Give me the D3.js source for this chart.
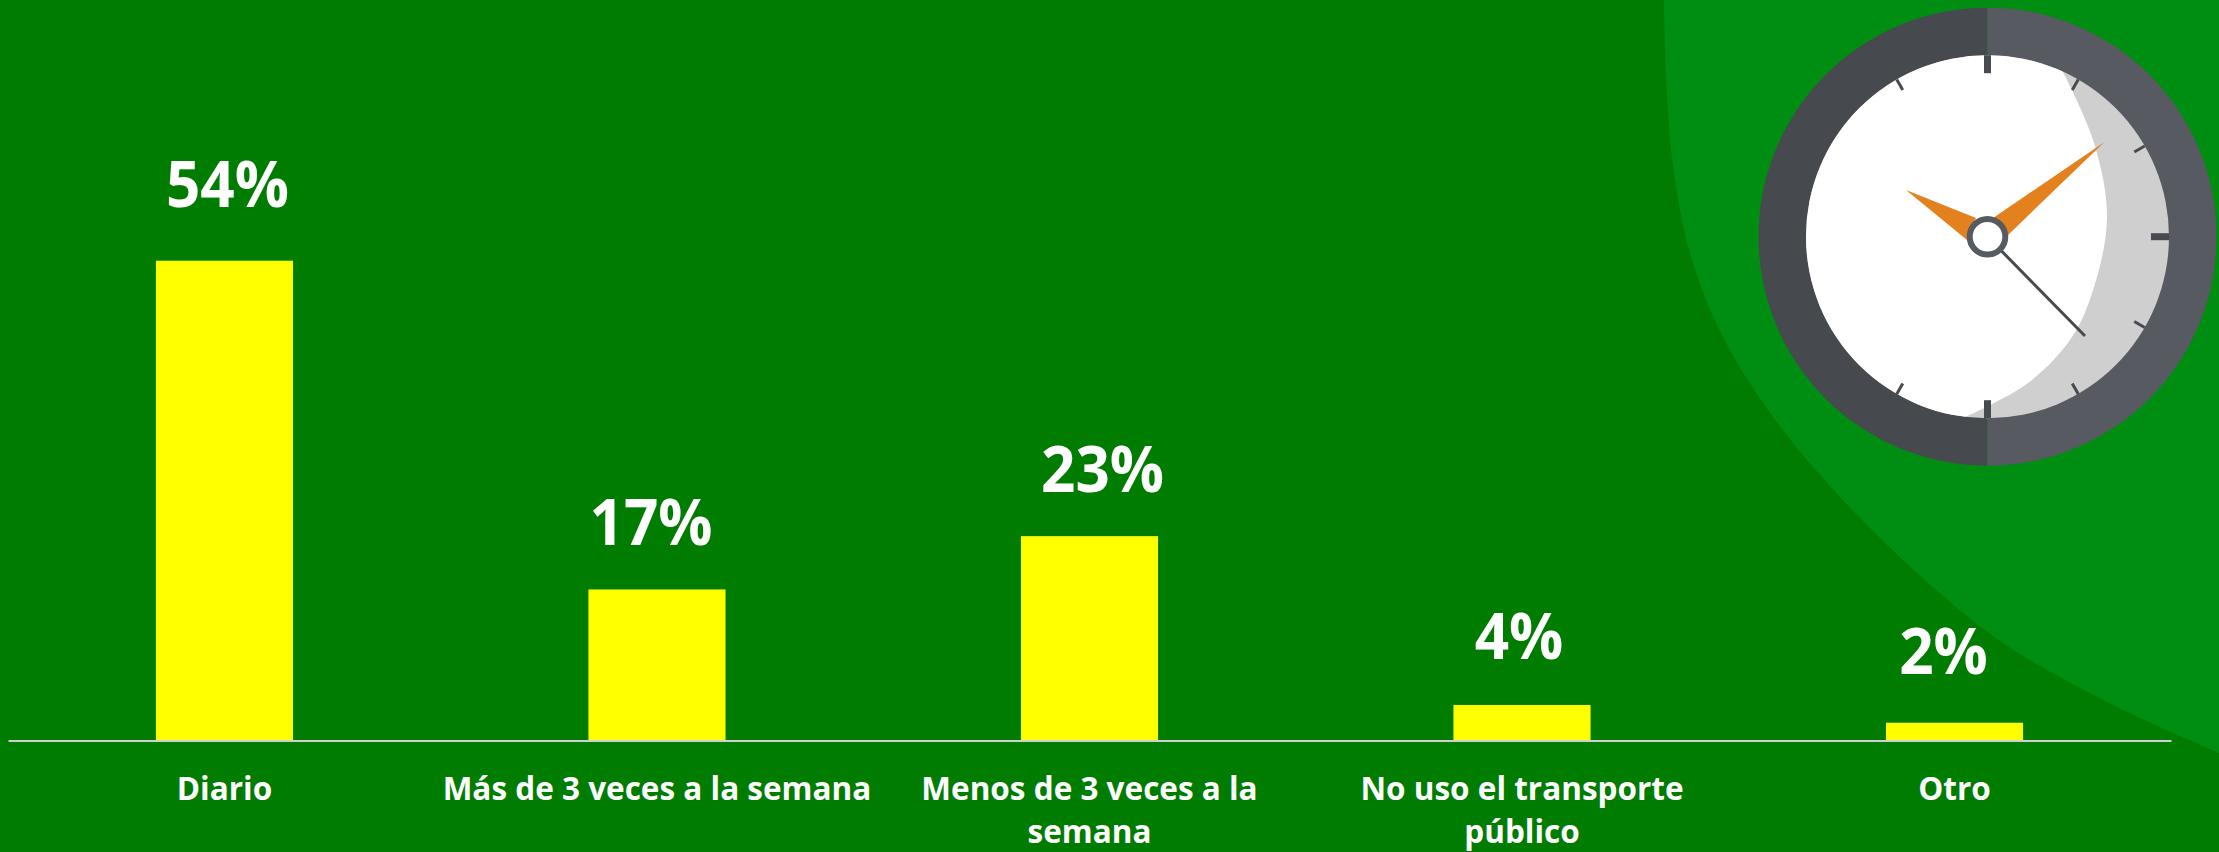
<!DOCTYPE html>
<html>
<head>
<meta charset="utf-8">
<script src="https://cdn.jsdelivr.net/npm/d3@7"></script>
<style>
  html, body { margin: 0; padding: 0; background: #007c00; }
  svg { display: block; }
</style>
</head>
<body>
<div id="chart"></div>
<script>
var categories = ["Diario", "Más de 3 veces a la semana", "Menos de 3 veces a la semana", "No uso el transporte público", "Otro"];
var values = [54, 17, 23, 4, 2];
var valueLabels = ["54%", "17%", "23%", "4%", "2%"];

var width = 2219, height = 852;
var baseY = 740.5;

// labels were placed by hand in the original, so they don't sit exactly over the bars
var labelNudgeX = [3, -6, 13, -3, -11];
var labelGapY = [54, 44, 44, 46, 49];

var svg = d3.select("#chart").append("svg")
  .attr("width", width)
  .attr("height", height);

svg.append("rect")
  .attr("width", width)
  .attr("height", height)
  .attr("fill", "#007c00");

// lighter corner behind the clock
var cornerPts = [[1664, 0], [1666, 77], [1673, 165], [1690, 253], [1723, 337], [1773, 417], [1840, 497], [1925, 580], [2003, 643], [2109, 703], [2219, 753]];
var cornerLine = d3.line().curve(d3.curveCatmullRom);
svg.append("path")
  .attr("d", cornerLine(cornerPts) + "L2219,0Z")
  .attr("fill", "#008e12");

var x = d3.scaleBand().domain(categories).range([8, 2171]).paddingInner(0.683).paddingOuter(0.342);
var y = d3.scaleLinear().domain([0, 54]).range([baseY, 260.7]);

svg.selectAll("rect.bar")
  .data(values)
  .enter().append("rect")
  .attr("class", "bar")
  .attr("x", function(d, i) { return x(categories[i]); })
  .attr("y", function(d) { return y(d); })
  .attr("width", x.bandwidth())
  .attr("height", function(d) { return baseY - y(d); })
  .attr("fill", "#ffff00");

var axis = svg.append("g")
  .attr("transform", "translate(0," + baseY + ")")
  .call(d3.axisBottom(x).tickSize(0).tickPadding(0));
axis.select(".domain").attr("stroke", "#d0d0d0").attr("stroke-width", 2);

// wrap the tick labels like the original
var wrapWidth = 445;
axis.selectAll("text")
  .attr("y", 0)
  .attr("dy", null)
  .attr("fill", "#fff")
  .attr("font-family", "'Open Sans'")
  .attr("font-weight", 700)
  .attr("font-size", 31.5)
  .each(function(d) {
    var t = d3.select(this);
    t.text(null);
    var words = d.split(" "), line = [], lineNo = 0;
    var span = t.append("tspan").attr("x", 0).attr("y", 59);
    words.forEach(function(w) {
      line.push(w);
      span.text(line.join(" "));
      var tooLong = span.node().getComputedTextLength() > (d === categories[3] ? 340 : wrapWidth);
      if (tooLong) {
        line.pop();
        span.text(line.join(" "));
        line = [w];
        lineNo++;
        span = t.append("tspan").attr("x", 0).attr("y", 59 + lineNo * 43).text(w);
      }
    });
  });

svg.selectAll("text.value")
  .data(values)
  .enter().append("text")
  .attr("class", "value")
  .attr("x", function(d, i) { return x(categories[i]) + x.bandwidth() / 2 + labelNudgeX[i]; })
  .attr("y", function(d, i) { return y(d) - labelGapY[i]; })
  .attr("text-anchor", "middle")
  .attr("fill", "#fff")
  .attr("font-family", "'Open Sans'")
  .attr("font-weight", 700)
  .attr("font-size", 64)
  .text(function(d, i) { return valueLabels[i]; })
  .each(function() {
    // original face is a bit narrower than Open Sans
    d3.select(this)
      .attr("textLength", this.getComputedTextLength() * 0.94)
      .attr("lengthAdjust", "spacingAndGlyphs");
  });

// clock
var cx = 1987.5, cy = 236.7, rOuter = 229, rInner = 181.5;
var defs = svg.append("defs");
defs.append("clipPath").attr("id", "face")
  .append("circle").attr("cx", cx).attr("cy", cy).attr("r", rInner);

var clock = svg.append("g");
var halfArc = d3.arc().innerRadius(rInner - 2).outerRadius(rOuter);
clock.append("path")
  .attr("transform", "translate(" + cx + "," + cy + ")")
  .attr("d", halfArc({ startAngle: -Math.PI, endAngle: 0 }))
  .attr("fill", "#46494d");
clock.append("path")
  .attr("transform", "translate(" + cx + "," + cy + ")")
  .attr("d", halfArc({ startAngle: 0, endAngle: Math.PI }))
  .attr("fill", "#575a61");

clock.append("circle").attr("cx", cx).attr("cy", cy).attr("r", rInner).attr("fill", "#cfcfcf");

var shadowEdge = [[2063, 72], [2094, 143], [2107, 217], [2094, 287], [2072, 337], [2028, 383], [1965, 417]];
clock.append("path")
  .attr("clip-path", "url(#face)")
  .attr("d", "M2040,30L2063,72" + d3.line().curve(d3.curveCatmullRom)(shadowEdge).replace("M2063,72", "") + "L1900,440L1780,440L1780,30Z")
  .attr("fill", "#fff");

// hour ticks, 9, 8 and 10 are not drawn in the original
[0, 1, 2, 3, 4, 5, 6, 7, 11].forEach(function(h) {
  var a = h * Math.PI / 6;
  var big = h % 3 === 0;
  var r0 = rInner - (big ? 18 : 12);
  clock.append("line")
    .attr("x1", cx + r0 * Math.sin(a))
    .attr("y1", cy - r0 * Math.cos(a))
    .attr("x2", cx + rInner * Math.sin(a))
    .attr("y2", cy - rInner * Math.cos(a))
    .attr("stroke", "#474a4e")
    .attr("stroke-width", big ? 7 : 3);
});

clock.append("path").attr("d", "M2104.5,142L1994.5,217L2008,235Z").attr("fill", "#e4811f");
clock.append("path").attr("d", "M1906,190L1976,218L1967,240Z").attr("fill", "#e4811f");
clock.append("line")
  .attr("x1", cx).attr("y1", cy).attr("x2", 2085).attr("y2", 336)
  .attr("stroke", "#474a4e").attr("stroke-width", 3);
clock.append("circle")
  .attr("cx", cx).attr("cy", cy).attr("r", 17.8)
  .attr("fill", "#fff").attr("stroke", "#575a61").attr("stroke-width", 6);
</script>
</body>
</html>
